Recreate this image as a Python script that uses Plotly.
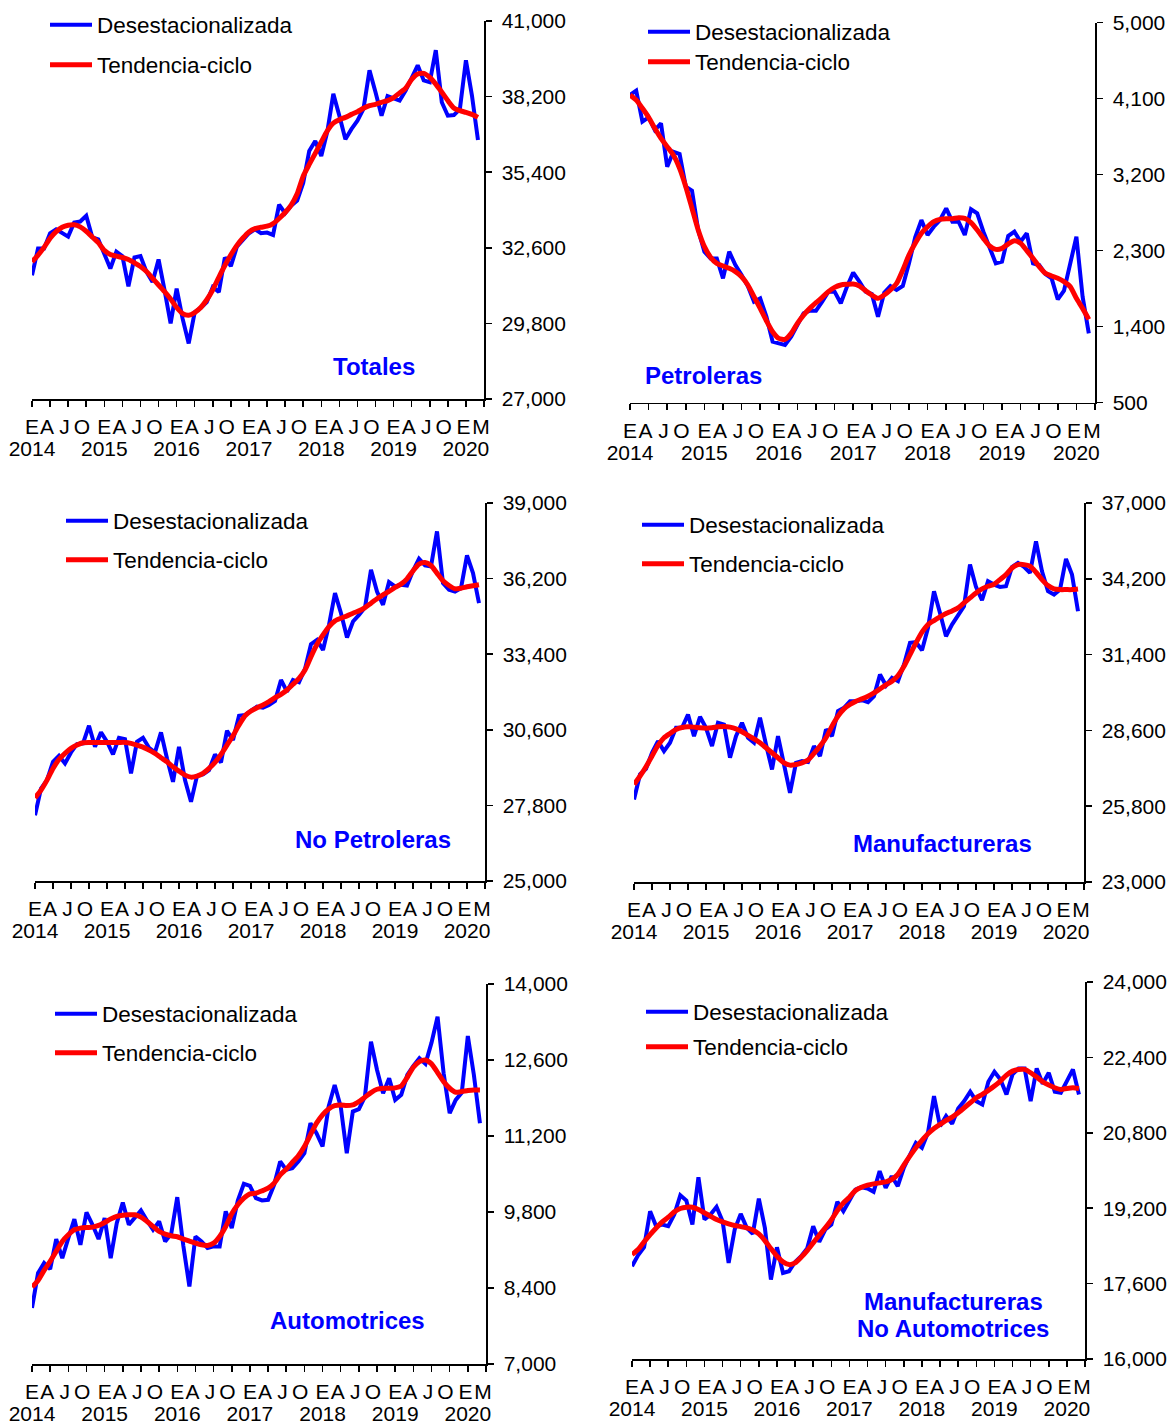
import plotly.graph_objects as go

W, H = 1171, 1424
FONT = "Liberation Sans, Arial, sans-serif"

# ---------------- data (Jan 2014 - Mar 2020, monthly) ----------------
meses = [f"{y}-{m:02d}" for y in range(2014, 2021) for m in range(1, 13)][:75]

totales_desest = [31583, 32578, 32578, 33138, 33287, 33138, 33013, 33536, 33573, 33785,
                  32989, 32914, 32390, 31832, 32454, 32292, 31172, 32242, 32292, 31708,
                  31334, 32168, 31023, 29804, 31085, 29966, 29058, 30214, 30376, 30588,
                  31148, 30961, 32242, 31919, 32640, 32864, 33138, 33287, 33138, 33162,
                  33075, 34195, 33884, 34157, 34350, 35000, 36186, 36559, 35999, 36900,
                  38300, 37492, 36621, 36994, 37305, 37741, 39171, 38363, 37492, 38214,
                  38114, 38052, 38425, 38860, 39358, 38798, 38736, 39918, 37990, 37492,
                  37517, 37741, 39545, 38238, 36596]
totales_tend = [32081, 32329, 32615, 32951, 33200, 33362, 33437, 33450, 33375, 33213,
                33001, 32790, 32504, 32354, 32292, 32242, 32168, 32043, 31906, 31720,
                31471, 31222, 30974, 30700, 30389, 30165, 30103, 30202, 30389, 30675,
                31048, 31508, 31944, 32342, 32690, 32964, 33188, 33312, 33362, 33399,
                33499, 33686, 33909, 34183, 34600, 35253, 35688, 36099, 36522, 36932,
                37218, 37343, 37430, 37542, 37641, 37766, 37865, 37915, 37990, 38052,
                38164, 38338, 38512, 38835, 39034, 39059, 38910, 38661, 38363, 38052,
                37778, 37679, 37616, 37542, 37430]

petroleras_desest = [4143, 4195, 3828, 3879, 3729, 3808, 3295, 3472, 3445, 3058,
                     3011, 2545, 2288, 2209, 2209, 1973, 2288, 2130, 2012, 1882,
                     1696, 1736, 1519, 1222, 1203, 1183, 1282, 1420, 1558, 1590,
                     1590, 1696, 1815, 1815, 1677, 1874, 2040, 1933, 1815, 1787,
                     1519, 1803, 1882, 1835, 1882, 2150, 2458, 2663, 2486, 2584,
                     2663, 2802, 2644, 2644, 2486, 2790, 2742, 2525, 2348, 2150,
                     2170, 2474, 2525, 2407, 2506, 2150, 2130, 2024, 1973, 1724,
                     1827, 2150, 2466, 1756, 1321]
petroleras_tend = [4143, 4084, 3986, 3879, 3749, 3630, 3532, 3433, 3275, 3058,
                   2802, 2545, 2348, 2221, 2150, 2119, 2091, 2052, 1992, 1894,
                   1756, 1617, 1471, 1341, 1262, 1250, 1321, 1440, 1538, 1617,
                   1684, 1748, 1815, 1866, 1894, 1902, 1906, 1882, 1827, 1775,
                   1736, 1775, 1835, 1913, 2071, 2249, 2387, 2506, 2584, 2644,
                   2671, 2679, 2679, 2691, 2683, 2632, 2545, 2446, 2356, 2316,
                   2328, 2379, 2419, 2387, 2300, 2209, 2111, 2032, 2000, 1973,
                   1933, 1874, 1736, 1617, 1487]

nopetroleras_desest = [27437, 28426, 28735, 29416, 29638, 29354, 29762, 30071, 30096, 30751,
                       29972, 30504, 30158, 29688, 30306, 30257, 28983, 30158, 30306, 29935,
                       29762, 30504, 29539, 28674, 29972, 28735, 27932, 28896, 28946, 29106,
                       29688, 29391, 30566, 30219, 31122, 31147, 31308, 31456, 31419, 31518,
                       31666, 32446, 32013, 32446, 32359, 32854, 33769, 33930, 33559, 34486,
                       35661, 34919, 34016, 34610, 34857, 35129, 36527, 35723, 35228, 36069,
                       35908, 35970, 35945, 36489, 36935, 36687, 36650, 37949, 36032, 35785,
                       35723, 35846, 37058, 36403, 35290]
nopetroleras_tend = [28080, 28364, 28735, 29168, 29502, 29725, 29910, 30034, 30121, 30133,
                     30133, 30133, 30133, 30133, 30133, 30133, 30096, 30034, 29960, 29848,
                     29725, 29564, 29416, 29230, 29069, 28921, 28847, 28884, 28983, 29168,
                     29391, 29688, 30034, 30380, 30776, 31122, 31296, 31419, 31518, 31642,
                     31790, 31914, 32075, 32285, 32507, 32817, 33311, 33769, 34115, 34424,
                     34634, 34733, 34820, 34919, 35005, 35129, 35290, 35451, 35599, 35723,
                     35871, 35995, 36192, 36489, 36737, 36799, 36687, 36403, 36118, 35945,
                     35822, 35846, 35896, 35933, 35970]

manuf_desest = [26051, 26974, 27183, 27774, 28204, 27835, 28143, 28696, 28696, 29188,
                28389, 29102, 28696, 28020, 28881, 28819, 27589, 28389, 28881, 28327,
                28143, 29065, 28081, 27158, 28389, 27343, 26297, 27404, 27466, 27429,
                28020, 27650, 28635, 28389, 29311, 29434, 29680, 29680, 29717, 29643,
                29865, 30664, 30258, 30541, 30418, 31034, 31833, 31858, 31562, 32387,
                33740, 32940, 32079, 32510, 32879, 33186, 34724, 33900, 33408, 34109,
                33986, 33900, 33924, 34638, 34786, 34638, 34417, 35585, 34478, 33740,
                33617, 33801, 34933, 34355, 33002]
manuf_tend = [26605, 26912, 27257, 27650, 28044, 28327, 28487, 28635, 28708, 28733,
              28721, 28696, 28684, 28696, 28733, 28745, 28721, 28659, 28549, 28413,
              28290, 28143, 27958, 27774, 27589, 27404, 27318, 27343, 27404, 27503,
              27749, 28020, 28327, 28758, 29127, 29397, 29557, 29680, 29766, 29865,
              29988, 30135, 30283, 30418, 30627, 30972, 31403, 31833, 32227, 32510,
              32657, 32793, 32916, 33014, 33125, 33309, 33494, 33678, 33826, 33924,
              33998, 34171, 34355, 34601, 34724, 34724, 34663, 34441, 34171, 33949,
              33826, 33801, 33801, 33801, 33826]

auto_desest = [8031, 8675, 8859, 8748, 9301, 8951, 9319, 9669, 9196, 9791,
               9564, 9301, 9687, 8951, 9595, 9975, 9564, 9706, 9828, 9644,
               9472, 9626, 9258, 9399, 10074, 9178, 8429, 9350, 9258, 9135,
               9166, 9166, 9810, 9503, 10012, 10319, 10282, 10055, 10012, 10024,
               10301, 10730, 10577, 10607, 10730, 10883, 11436, 11252, 11006, 11742,
               12141, 11742, 10883, 11650, 11693, 11926, 12939, 12417, 11988, 12264,
               11865, 11957, 12325, 12491, 12632, 12528, 12920, 13399, 12356, 11620,
               11865, 12000, 13043, 12325, 11436]
auto_tend = [8417, 8540, 8724, 8890, 9074, 9258, 9380, 9472, 9503, 9515,
             9521, 9552, 9607, 9669, 9718, 9742, 9748, 9748, 9706, 9626,
             9534, 9442, 9393, 9362, 9344, 9301, 9264, 9227, 9196, 9184,
             9227, 9350, 9534, 9767, 9932, 10055, 10135, 10147, 10190, 10239,
             10331, 10485, 10589, 10712, 10834, 11006, 11221, 11436, 11589, 11699,
             11761, 11773, 11761, 11773, 11834, 11914, 12000, 12061, 12080, 12080,
             12086, 12123, 12282, 12466, 12571, 12601, 12528, 12368, 12202, 12080,
             12006, 12018, 12037, 12049, 12049]

noauto_desest = [17968, 18202, 18371, 19136, 18817, 18853, 18817, 19065, 19476, 19363,
                 18853, 19858, 18959, 19065, 19228, 18924, 18039, 18747, 19079, 18782,
                 18655, 19405, 18782, 17685, 18371, 17826, 17862, 18060, 18180, 18343,
                 18817, 18485, 18747, 18853, 19334, 19136, 19363, 19596, 19646, 19618,
                 19547, 19986, 19632, 19879, 19667, 20056, 20325, 20587, 20481, 20800,
                 21579, 20941, 21154, 20991, 21317, 21472, 21671, 21472, 21402, 21883,
                 22095, 21933, 21614, 22039, 22166, 22166, 21472, 22166, 21841, 22074,
                 21671, 21650, 21897, 22145, 21614]
noauto_tend = [18216, 18322, 18485, 18640, 18782, 18909, 19009, 19122, 19193, 19221,
               19221, 19171, 19101, 19030, 18959, 18909, 18867, 18832, 18810, 18782,
               18740, 18655, 18513, 18343, 18180, 18060, 18003, 18039, 18159, 18301,
               18464, 18626, 18782, 18952, 19150, 19313, 19433, 19575, 19646, 19688,
               19717, 19738, 19759, 19809, 19915, 20113, 20304, 20481, 20637, 20779,
               20892, 20977, 21062, 21133, 21225, 21331, 21437, 21543, 21614, 21699,
               21791, 21897, 22025, 22109, 22145, 22145, 22074, 21982, 21883, 21812,
               21756, 21720, 21742, 21756, 21742]

# tick labels (month initials under the quarterly tick marks, year below)
letras = ["E", "A", "J", "O"] * 6 + ["E", "M"]
letras_pos = [y * 12 + q for y in range(6) for q in (0, 2.5, 5.4, 8.3)] + [71.6, 74.5]
anios = ["2014", "2015", "2016", "2017", "2018", "2019", "2020"]
anios_pos = list(range(0, 73, 12))
marcas_pos = list(range(0, 76, 3))

yticks_totales = [27000, 29800, 32600, 35400, 38200, 41000]
yticks_petroleras = [500, 1400, 2300, 3200, 4100, 5000]
yticks_nopetroleras = [25000, 27800, 30600, 33400, 36200, 39000]
yticks_manuf = [23000, 25800, 28600, 31400, 34200, 37000]
yticks_auto = [7000, 8400, 9800, 11200, 12600, 14000]
yticks_noauto = [16000, 17600, 19200, 20800, 22400, 24000]

# ---------------- layout geometry (pixels) ----------------
panels = [
    dict(blue=totales_desest, red=totales_tend, yt=yticks_totales,
         px=(32, 484), py=(21, 399), leg=(50, 25, 65),
         titles=[("Totales", 374, 366)]),
    dict(blue=petroleras_desest, red=petroleras_tend, yt=yticks_petroleras,
         px=(630, 1095), py=(22.7, 402.7), leg=(648, 32, 62),
         titles=[("Petroleras", 703, 375)]),
    dict(blue=nopetroleras_desest, red=nopetroleras_tend, yt=yticks_nopetroleras,
         px=(35, 485), py=(503, 881), leg=(66, 521, 560),
         titles=[("No Petroleras", 373, 839)]),
    dict(blue=manuf_desest, red=manuf_tend, yt=yticks_manuf,
         px=(634, 1084), py=(503, 882), leg=(642, 525, 564),
         titles=[("Manufactureras", 942, 843)]),
    dict(blue=auto_desest, red=auto_tend, yt=yticks_auto,
         px=(32, 486), py=(984, 1364), leg=(55, 1014, 1053),
         titles=[("Automotrices", 347, 1320)]),
    dict(blue=noauto_desest, red=noauto_tend, yt=yticks_noauto,
         px=(632, 1085), py=(982, 1359), leg=(646, 1012, 1047),
         titles=[("Manufactureras", 953, 1301), ("No Automotrices", 953, 1328)]),
]

fig = go.Figure()
layout = dict(width=W, height=H, margin=dict(l=0, r=0, t=0, b=0, autoexpand=False),
              paper_bgcolor="white", plot_bgcolor="rgba(0,0,0,0)", showlegend=True,
              font=dict(family=FONT, color="black"))
annotations = []
tickfont = dict(family=FONT, size=21, color="black")

for k, p in enumerate(panels, start=1):
    xs = "" if k == 1 else str(k)
    xd = [p["px"][0] / W, p["px"][1] / W]
    yd = [1 - p["py"][1] / H, 1 - p["py"][0] / H]
    x = list(range(len(meses)))
    leg_b = "legend" if k == 1 else f"legend{2 * k - 1}"
    leg_r = f"legend{2 * k}"
    fig.add_trace(go.Scatter(x=x, y=p["blue"], mode="lines", name="Desestacionalizada",
                             line=dict(color="#0000FF", width=4), xaxis="x" + xs, yaxis="y" + xs,
                             legend=leg_b, hoverinfo="skip"))
    fig.add_trace(go.Scatter(x=x, y=p["red"], mode="lines", name="Tendencia-ciclo",
                             line=dict(color="#FF0000", width=5, shape="spline", smoothing=0.6),
                             xaxis="x" + xs, yaxis="y" + xs, legend=leg_r, hoverinfo="skip"))
    # carriers for the label axes (letters / years)
    for ax in (k + 6, k + 12):
        fig.add_trace(go.Scatter(x=[0, 75], y=[None, None], mode="lines", showlegend=False,
                                 xaxis=f"x{ax}", yaxis="y" + xs, hoverinfo="skip"))
    lx, ly1, ly2 = p["leg"]
    for lname, ly in ((leg_b, ly1), (leg_r, ly2)):
        layout[lname] = dict(x=(lx - 5) / W, y=1 - ly / H, xanchor="left", yanchor="middle",
                             xref="container", yref="container",
                             bgcolor="rgba(0,0,0,0)", borderwidth=0, itemwidth=42,
                             font=dict(family=FONT, size=22.5, color="black"))
    # base x axis with tick marks
    layout["xaxis" + xs] = dict(domain=xd, range=[0, 75], anchor="y" + xs,
                                tickmode="array", tickvals=marcas_pos, showticklabels=False,
                                ticks="outside", ticklen=6, tickwidth=1.5, tickcolor="black",
                                showline=True, linecolor="black", linewidth=1.5,
                                showgrid=False, zeroline=False, fixedrange=True)
    # letters axis
    layout[f"xaxis{k + 6}"] = dict(overlaying="x" + xs, anchor="y" + xs, side="bottom",
                                   range=[0, 75], tickmode="array", tickvals=letras_pos,
                                   ticktext=letras, tickangle=0, ticks="", showline=False,
                                   showgrid=False, zeroline=False, tickfont=tickfont,
                                   ticklabelstandoff=13)
    # years axis
    layout[f"xaxis{k + 12}"] = dict(overlaying="x" + xs, anchor="y" + xs, side="bottom",
                                    range=[0, 75], tickmode="array", tickvals=anios_pos,
                                    ticktext=anios, tickangle=0, ticks="", showline=False,
                                    showgrid=False, zeroline=False, tickfont=tickfont,
                                    ticklabelstandoff=35)
    layout["yaxis" + xs] = dict(domain=yd, range=[p["yt"][0], p["yt"][-1]], anchor="x" + xs,
                                side="right", tickmode="array", tickvals=p["yt"],
                                tickformat=",", ticks="outside", ticklen=6, tickwidth=1.5,
                                tickcolor="black", showline=True, linecolor="black",
                                linewidth=1.5, showgrid=False, zeroline=False,
                                tickfont=tickfont, ticklabelstandoff=6)
    for text, cx, cy in p["titles"]:
        annotations.append(dict(text=f"<b>{text}</b>", x=cx / W, y=1 - cy / H, xref="paper",
                                yref="paper", showarrow=False, xanchor="center", yanchor="middle",
                                font=dict(family=FONT, size=24, color="#0000FF")))

layout["annotations"] = annotations
fig.update_layout(**layout)
fig.write_html("out.html", config={"displayModeBar": False, "staticPlot": True},
               post_script="document.body.style.margin='0';")
